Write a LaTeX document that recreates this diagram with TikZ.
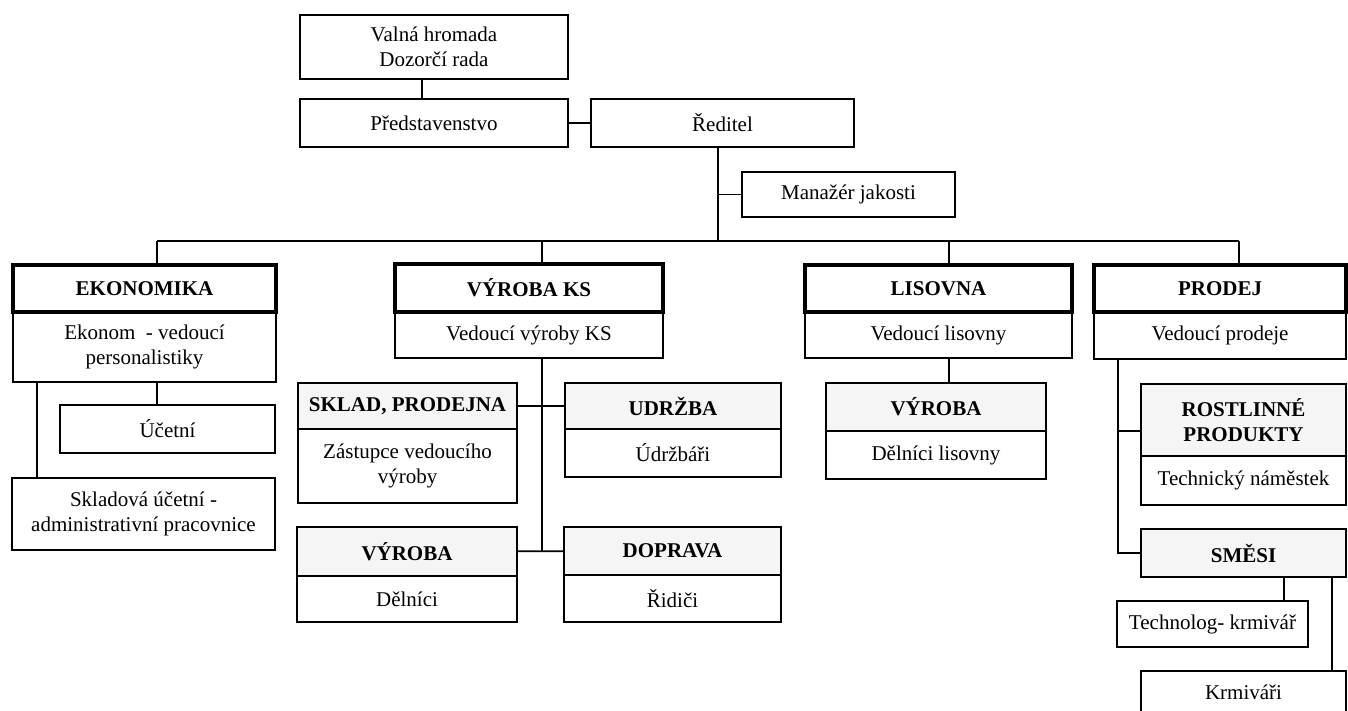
\documentclass[tikz,border=0pt]{standalone}
\usepackage{fontspec}
\setmainfont{Liberation Serif}
\usetikzlibrary{positioning}

\begin{document}
\begin{tikzpicture}[x=1pt,y=-1pt]
    \useasboundingbox (0,0) rectangle (1348,711);

    \tikzstyle{box} = [draw, line width=1.6pt, anchor=north west, inner sep=0pt, outer sep=0pt, align=center, font=\fontsize{21}{25}\selectfont]
    \tikzstyle{head} = [box, line width=3.5pt, font=\fontsize{21}{25}\selectfont\bfseries]
    \tikzstyle{subhead} = [box, line width=2pt, fill=black!4, font=\fontsize{21}{25}\selectfont\bfseries]
    \tikzstyle{link} = [line width=1.6pt]

    % vedeni
    \node[box, minimum width=268pt, minimum height=64pt] (valna) at (300,15) {Valná hromada\\Dozorčí rada};
    \node[box, minimum width=268pt, minimum height=48pt] (pred) at (300,99) {Představenstvo};
    \node[box, minimum width=263pt, minimum height=48pt] (reditel) at (591,99) {Ředitel};
    \node[box, minimum width=213pt, minimum height=45pt] (manazer) at (742,172) {Manažér jakosti};

    % ekonomika
    \node[box, minimum width=263pt, minimum height=70pt] (ekonb) at (13,312) {Ekonom~ - vedoucí\\personalistiky};
    \node[head, minimum width=263pt, minimum height=47pt] (ekonh) at (13,265) {EKONOMIKA};
    \node[box, minimum width=215pt, minimum height=48pt] (ucetni) at (60,405) {Účetní};
    \node[box, minimum width=263pt, minimum height=72pt] (sklucet) at (12,478) {Skladová účetní -\\administrativní pracovnice};

    % vyroba KS
    \node[box, minimum width=268pt, minimum height=46pt] (vksb) at (395,312) {Vedoucí výroby KS};
    \node[head, minimum width=268pt, minimum height=48pt] (vksh) at (395,264) {VÝROBA KS};
    \node[box, minimum width=219pt, minimum height=74pt] (sklb) at (298,429) {Zástupce vedoucího\\výroby};
    \node[subhead, minimum width=219pt, minimum height=46pt] (sklh) at (298,383) {SKLAD, PRODEJNA};
    \node[box, minimum width=216pt, minimum height=48pt] (udrb) at (565,429) {Údržbáři};
    \node[subhead, minimum width=216pt, minimum height=46pt] (udrh) at (565,383) {UDRŽBA};
    \node[box, minimum width=220pt, minimum height=46pt] (vyrb) at (297,576) {Dělníci};
    \node[subhead, minimum width=220pt, minimum height=49pt] (vyrh) at (297,527) {VÝROBA};
    \node[box, minimum width=217pt, minimum height=47pt] (dopb) at (564,575) {Řidiči};
    \node[subhead, minimum width=217pt, minimum height=48pt] (doph) at (564,527) {DOPRAVA};

    % lisovna
    \node[box, minimum width=267pt, minimum height=46pt] (lisb) at (805,312) {Vedoucí lisovny};
    \node[head, minimum width=267pt, minimum height=47pt] (lish) at (805,265) {LISOVNA};
    \node[box, minimum width=220pt, minimum height=48pt] (lvyrb) at (826,431) {Dělníci lisovny};
    \node[subhead, minimum width=220pt, minimum height=48pt] (lvyrh) at (826,383) {VÝROBA};

    % prodej
    \node[box, minimum width=252pt, minimum height=47pt] (prodb) at (1094,312) {Vedoucí prodeje};
    \node[head, minimum width=252pt, minimum height=47pt] (prodh) at (1094,265) {PRODEJ};
    \node[box, minimum width=205pt, minimum height=49pt] (rostb) at (1141,456) {Technický náměstek};
    \node[subhead, minimum width=205pt, minimum height=72pt] (rosth) at (1141,384) {ROSTLINNÉ\\PRODUKTY};
    \node[subhead, minimum width=205pt, minimum height=48pt] (smesi) at (1141,529) {SMĚSI};
    \node[box, minimum width=191pt, minimum height=46pt] (tech) at (1117,601) {Technolog- krmivář};
    \node[box, minimum width=205pt, minimum height=42pt] (krm) at (1141,671) {Krmiváři};

    % spojnice
    \coordinate (bus) at (718,241);
    \coordinate (b1) at (157,241);
    \coordinate (b2) at (542,241);
    \coordinate (b3) at (949,241);
    \coordinate (b4) at (1239,241);

    \draw[link] ([xshift=-12pt]valna.south) -- ([xshift=-12pt]pred.north);
    \draw[link] (pred) -- (reditel);
    \draw[link] (reditel.south -| bus) -- (bus);
    \draw[link] (bus |- manazer.west) -- (manazer.west);
    \draw[link] (b1) -- (b4);
    \draw[link] (b1) -- (b1 |- ekonh.north);
    \draw[link] (b2) -- (b2 |- vksh.north);
    \draw[link] (b3) -- (b3 |- lish.north);
    \draw[link] (b4) -- (b4 |- prodh.north);

    \draw[link] (ekonb.south -| b1) -- (ucetni.north -| b1);
    \coordinate (e1) at ([xshift=24pt]ekonb.south west);
    \draw[link] (e1) -- (e1 |- sklucet.north);

    \draw[link] (vksb.south -| b2) -- (vyrh.east -| b2);
    \draw[link] (sklh) -- (udrh);
    \draw[link] (vyrh) -- (doph);

    \draw[link] (lisb.south -| b3) -- (lvyrh.north -| b3);

    \coordinate (p1) at ([xshift=24pt]prodb.south west);
    \draw[link] (p1) |- (smesi.west);
    \draw[link] ([yshift=-11pt]rosth.west) -- ++(-23pt,0);
    \coordinate (t1) at ([xshift=-24pt]tech.north east);
    \draw[link] (t1) -- (t1 |- smesi.south);
    \coordinate (k1) at ([xshift=-14pt]smesi.south east);
    \draw[link] (k1) -- (k1 |- krm.north);
\end{tikzpicture}
\end{document}
